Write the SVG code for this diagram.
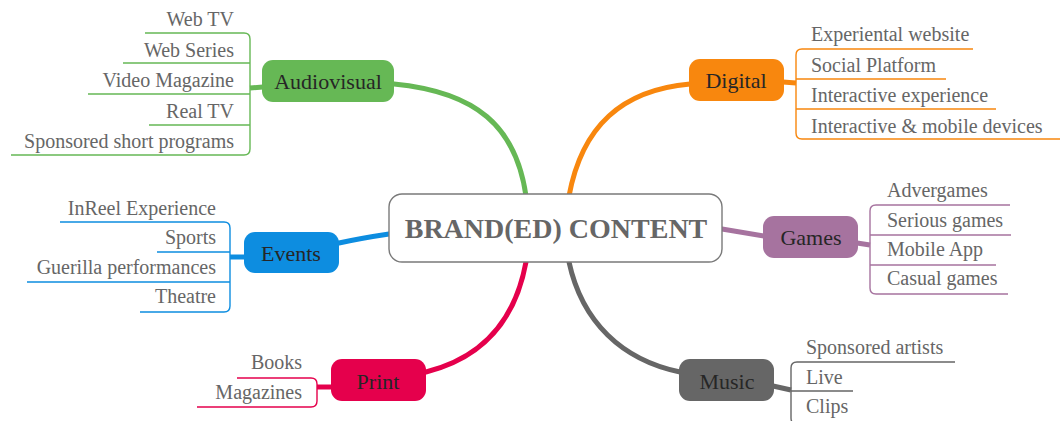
<svg xmlns="http://www.w3.org/2000/svg" width="1064" height="421" viewBox="0 0 1064 421">
  <style>
    .leaf { font-family: "Liberation Serif", "DejaVu Serif", serif; font-size: 20px; fill: #666666; }
    .lbl { font-family: "Liberation Serif", "DejaVu Serif", serif; font-size: 22px; fill: #262626; text-anchor: middle; }
    .main { font-family: "Liberation Serif", "DejaVu Serif", serif; font-size: 28px; font-weight: bold; fill: #666666; text-anchor: middle; }
    .end { text-anchor: end; }
    .br { fill: none; stroke-width: 1.4; }
    .trunk { fill: none; stroke-width: 5; stroke-linecap: round; }
    .stub { fill: none; stroke-width: 5; stroke-linecap: butt; }
  </style>
  <rect width="1064" height="421" fill="#ffffff"/>

  <!-- connectors: trunks from the centre to each topic, plus stubs to leaf brackets -->
  <g id="connectors">
    <path class="trunk" stroke="#66b855" d="M526,196 C516,126 476,92 394,84"/>
    <path class="trunk" stroke="#f8870e" d="M569,196 C582,126 622,90 690,84"/>
    <path class="trunk" stroke="#a6739f" d="M722,229 L764,236"/>
    <path class="trunk" stroke="#0d8de0" d="M389,234 Q362,238 339,243"/>
    <path class="trunk" stroke="#e5004c" d="M526,262 C515,322 482,358 426,372"/>
    <path class="trunk" stroke="#666666" d="M569,262 C582,322 622,360 680,372"/>

    <path class="stub" stroke="#66b855" d="M263,87 L250,88"/>
    <path class="stub" stroke="#f8870e" d="M783,82 L796,83"/>
    <path class="stub" stroke="#a6739f" d="M857,243 L870,245"/>
    <path class="stub" stroke="#0d8de0" d="M245,257 L230,257"/>
    <path class="stub" stroke="#e5004c" d="M332,387 L317,387"/>
    <path class="stub" stroke="#666666" d="M773,386 L791,390"/>
  </g>

  <!-- central topic -->
  <g id="center">
    <rect x="389" y="194" width="333" height="68" rx="13" fill="#ffffff" stroke="#7a7a7a" stroke-width="1.4"/>
    <text class="main" x="556" y="238">BRAND(ED) CONTENT</text>
  </g>

  <!-- Audiovisual -->
  <g id="audiovisual">
    <rect x="262" y="60" width="132" height="42" rx="11" fill="#66b855"/>
    <text class="lbl" x="328" y="89">Audiovisual</text>
    <path class="br" stroke="#66b855" d="M145,33 H244 Q250,33 250,39 V149 Q250,155 244,155 H11 M250,63 H123 M250,94 H88 M250,125 H149"/>
    <text class="leaf end" x="234" y="26">Web TV</text>
    <text class="leaf end" x="234" y="57">Web Series</text>
    <text class="leaf end" x="234" y="87">Video Magazine</text>
    <text class="leaf end" x="234" y="118">Real TV</text>
    <text class="leaf end" x="234" y="148">Sponsored short programs</text>
  </g>

  <!-- Digital -->
  <g id="digital">
    <rect x="689" y="59" width="95" height="42" rx="11" fill="#f8870e"/>
    <text class="lbl" x="736" y="88">Digital</text>
    <path class="br" stroke="#f8870e" d="M973,49 H802 Q796,49 796,55 V133 Q796,139 802,139 H1060 M796,79 H946 M796,109 H996"/>
    <text class="leaf" x="811" y="41">Experiental website</text>
    <text class="leaf" x="811" y="72">Social Platform</text>
    <text class="leaf" x="811" y="102">Interactive experience</text>
    <text class="leaf" x="811" y="133">Interactive &amp; mobile devices</text>
  </g>

  <!-- Games -->
  <g id="games">
    <rect x="763" y="216" width="95" height="42" rx="11" fill="#a6739f"/>
    <text class="lbl" x="811" y="245">Games</text>
    <path class="br" stroke="#a6739f" d="M1010,205 H876 Q870,205 870,211 V288 Q870,294 876,294 H1008 M870,235 H1011 M870,265 H996"/>
    <text class="leaf" x="887" y="197">Advergames</text>
    <text class="leaf" x="887" y="227">Serious games</text>
    <text class="leaf" x="887" y="256">Mobile App</text>
    <text class="leaf" x="887" y="285">Casual games</text>
  </g>

  <!-- Events -->
  <g id="events">
    <rect x="244" y="232" width="95" height="41" rx="11" fill="#0d8de0"/>
    <text class="lbl" x="291" y="261">Events</text>
    <path class="br" stroke="#0d8de0" d="M60,222 H224 Q230,222 230,228 V306 Q230,312 224,312 H140 M230,252 H157 M230,282 H27"/>
    <text class="leaf end" x="216" y="215">InReel Experience</text>
    <text class="leaf end" x="216" y="244">Sports</text>
    <text class="leaf end" x="216" y="274">Guerilla performances</text>
    <text class="leaf end" x="216" y="303">Theatre</text>
  </g>

  <!-- Print -->
  <g id="print">
    <rect x="331" y="359" width="95" height="42" rx="11" fill="#e5004c"/>
    <text class="lbl" x="378" y="389">Print</text>
    <path class="br" stroke="#e5004c" d="M237,378 H311 Q317,378 317,384 V401 Q317,407 311,407 H197"/>
    <text class="leaf end" x="302" y="369">Books</text>
    <text class="leaf end" x="302" y="399">Magazines</text>
  </g>

  <!-- Music -->
  <g id="music">
    <rect x="679" y="359" width="95" height="42" rx="11" fill="#666666"/>
    <text class="lbl" x="727" y="389">Music</text>
    <path class="br" stroke="#666666" d="M955,362 H797 Q791,362 791,368 V418 Q791,424 797,424 H853 M791,391 H853"/>
    <text class="leaf" x="806" y="354">Sponsored artists</text>
    <text class="leaf" x="806" y="384">Live</text>
    <text class="leaf" x="806" y="413">Clips</text>
  </g>
</svg>
